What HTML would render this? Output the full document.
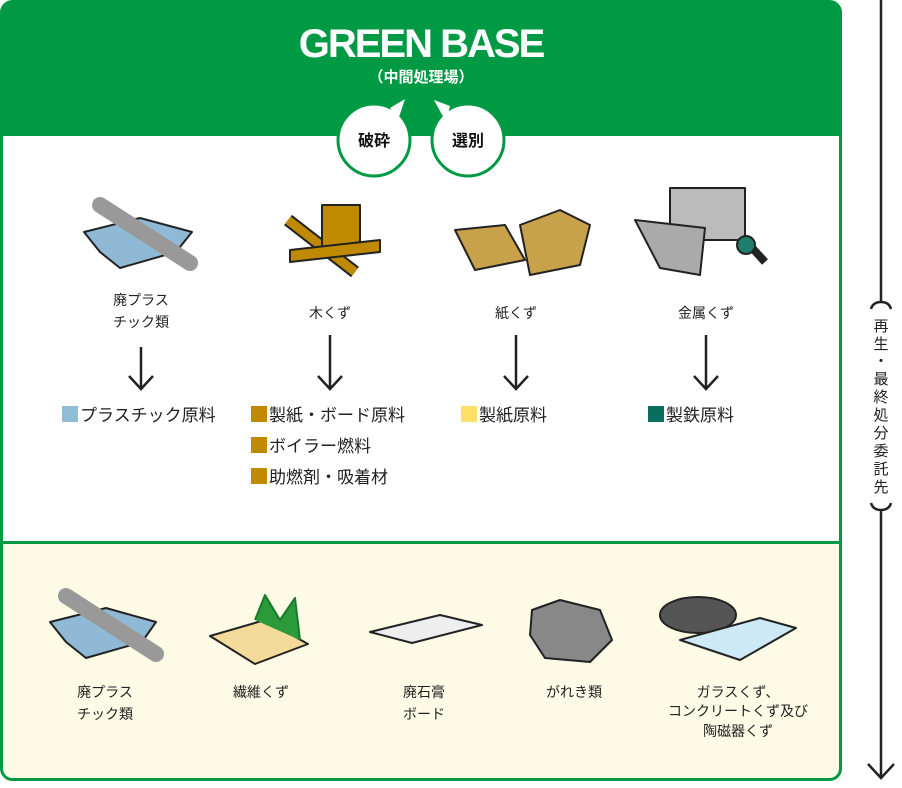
<!DOCTYPE html>
<html><head><meta charset="utf-8"><style>
body{margin:0;background:#fff;}
svg text{font-family:"Liberation Sans","Noto Sans CJK JP",sans-serif;}
</style></head><body>
<svg width="902" height="783" viewBox="0 0 902 783" xmlns="http://www.w3.org/2000/svg">
<defs><clipPath id="c"><rect x="1.5" y="1.5" width="839" height="778" rx="11"/></clipPath></defs>
<g clip-path="url(#c)">
<rect x="0" y="0" width="842" height="781" fill="#fff"/>
<rect x="0" y="0" width="842" height="136" fill="#009a44"/>
<rect x="0" y="543" width="842" height="240" fill="#fdfbe5"/>
<rect x="0" y="541" width="842" height="3" fill="#009a44"/>
</g>
<rect x="1.5" y="1.5" width="839" height="778" rx="11" fill="none" stroke="#009a44" stroke-width="3"/>
<text x="421" y="57" text-anchor="middle" font-size="40" font-weight="bold" fill="#fff" letter-spacing="-2">GREEN BASE</text>
<text x="421" y="82" text-anchor="middle" font-size="15" font-weight="bold" fill="#fff">（中間処理場）</text>
<path d="M392 112 L405 99 L400 122 Z" fill="#fff" stroke="#009a44" stroke-width="3"/>
<circle cx="374" cy="140" r="36" fill="#fff" stroke="#009a44" stroke-width="3"/>
<path d="M390 108 L405 99 L398 120" fill="#fff"/>
<path d="M452 112 L434 100 L446 122 Z" fill="#fff" stroke="#009a44" stroke-width="3"/>
<circle cx="468" cy="140" r="36" fill="#fff" stroke="#009a44" stroke-width="3"/>
<path d="M450 106 L434 100 L446 122" fill="#fff"/>
<text x="374" y="146" text-anchor="middle" font-size="16" font-weight="bold" fill="#111">破砕</text>
<text x="468" y="146" text-anchor="middle" font-size="16" font-weight="bold" fill="#111">選別</text>
<g stroke="#222" stroke-width="2" stroke-linejoin="round">
<path d="M84 232 L140 218 L192 232 L176 252 L120 268 L100 252 Z" fill="#8fb9d4"/>
<path d="M100 205 L190 263" stroke="#999" stroke-width="16" stroke-linecap="round"/>
<path d="M288 220 L355 272" stroke="#222" stroke-width="13"/><path d="M288 220 L355 272" stroke="#c08a00" stroke-width="9"/>
<rect x="322" y="205" width="38" height="45" fill="#c08a00"/>
<path d="M290 250 L380 240 L380 252 L290 262 Z" fill="#c08a00"/>
<path d="M455 230 L505 225 L525 260 L475 270 Z" fill="#c8a24a"/>
<path d="M520 225 L560 210 L590 225 L580 265 L530 275 Z" fill="#c8a24a"/>
<rect x="670" y="188" width="75" height="52" fill="#bbb"/>
<path d="M635 220 L705 228 L700 275 L660 268 Z" fill="#aaa"/>
<path d="M745 240 L765 262" stroke="#222" stroke-width="8"/><circle cx="746" cy="245" r="9" fill="#1e7d6c"/>
</g>
<g font-size="14" fill="#222" text-anchor="middle">
<text x="141" y="305">廃プラス</text><text x="141" y="327">チック類</text>
<text x="330" y="318">木くず</text><text x="516" y="318">紙くず</text><text x="706" y="318">金属くず</text>
</g>
<g stroke="#222" stroke-width="2.5" fill="none">
<path d="M141 347 V388 M129 376 L141 389 L153 376"/>
<path d="M330 335 V388 M318 376 L330 389 L342 376"/>
<path d="M516 335 V388 M504 376 L516 389 L528 376"/>
<path d="M706 335 V388 M694 376 L706 389 L718 376"/>
</g>
<g font-size="17" fill="#222">
<rect x="62" y="406" width="16" height="16" fill="#8fbcd6"/><text x="80" y="421">プラスチック原料</text>
<rect x="251" y="406" width="16" height="16" fill="#c08a00"/><text x="269" y="421">製紙・ボード原料</text>
<rect x="251" y="437" width="16" height="16" fill="#c08a00"/><text x="269" y="452">ボイラー燃料</text>
<rect x="251" y="468" width="16" height="16" fill="#c08a00"/><text x="269" y="483">助燃剤・吸着材</text>
<rect x="461" y="406" width="16" height="16" fill="#ffe066"/><text x="479" y="421">製紙原料</text>
<rect x="648" y="406" width="16" height="16" fill="#0a6e5e"/><text x="666" y="421">製鉄原料</text>
</g>
<g stroke="#222" stroke-width="2" stroke-linejoin="round">
<path d="M50 622 L106 608 L156 622 L142 642 L86 658 L66 642 Z" fill="#8fb9d4"/>
<path d="M66 596 L156 654" stroke="#999" stroke-width="16" stroke-linecap="round"/>
<path d="M210 636 L265 620 L308 644 L255 664 Z" fill="#f3dc9b"/>
<path d="M255 620 L265 595 L280 620 L295 598 L300 640" stroke="#1a7a2a" fill="#2a9a3a"/>
<path d="M370 632 L440 615 L482 625 L412 643 Z" fill="#eee"/>
<path d="M532 610 L560 600 L600 610 L612 640 L590 662 L545 658 L530 635 Z" fill="#888"/>
<ellipse cx="698" cy="615" rx="38" ry="18" fill="#555"/>
<path d="M680 640 L760 618 L796 628 L740 660 Z" fill="#cde9f6"/>
</g>
<g font-size="14" fill="#222" text-anchor="middle">
<text x="105" y="697">廃プラス</text><text x="105" y="719">チック類</text>
<text x="261" y="697">繊維くず</text>
<text x="424" y="697">廃石膏</text><text x="424" y="719">ボード</text>
<text x="574" y="697">がれき類</text>
<text x="738" y="697">ガラスくず、</text><text x="738" y="716">コンクリートくず及び</text><text x="738" y="736">陶磁器くず</text>
</g>
<g stroke="#222" stroke-width="2.5" fill="none">
<path d="M881 0 V302 M871 309 Q873 302 881 302 Q889 302 891 309"/>
<path d="M881 510 V778 M871 503 Q873 510 881 510 Q889 510 891 503 M868 764 L881 778 L894 764"/>
</g>
<g font-size="15" fill="#222" text-anchor="middle">
<text x="881" y="331">再</text><text x="881" y="349">生</text><text x="881" y="366">・</text><text x="881" y="384">最</text><text x="881" y="402">終</text><text x="881" y="420">処</text><text x="881" y="438">分</text><text x="881" y="456">委</text><text x="881" y="474">託</text><text x="881" y="492">先</text>
</g>
</svg>
</body></html>
